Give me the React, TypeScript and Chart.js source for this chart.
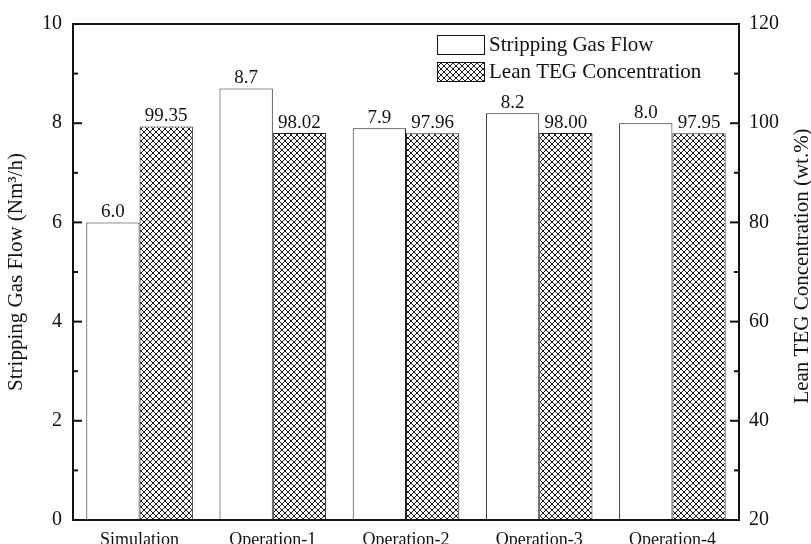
import React, { useEffect, useRef } from "react";
import { Chart, registerables } from "chart.js";

Chart.register(...registerables);

const categories = ["Simulation", "Operation-1", "Operation-2", "Operation-3", "Operation-4"];
const gasFlow = [6.0, 8.7, 7.9, 8.2, 8.0];
const tegConcentration = [99.35, 98.02, 97.96, 98.0, 97.95];
const leftTicks = [0, 2, 4, 6, 8, 10];
const rightTicks = [20, 40, 60, 80, 100, 120];
const seriesNames = ["Stripping Gas Flow", "Lean TEG Concentration"];
const leftTitle = "Stripping Gas Flow (Nm\u00b3/h)";
const rightTitle = "Lean TEG Concentration (wt.%)";

const SERIF = "'Liberation Serif', 'Times New Roman', serif";
const INK = "#111";

// 6px cross-hatch tile built from single-pixel diagonals
function makeCrossHatch(): CanvasPattern | string {
  const n = 6;
  const tile = document.createElement("canvas");
  tile.width = n;
  tile.height = n;
  const c = tile.getContext("2d");
  if (!c) return "#fff";
  c.fillStyle = "#fff";
  c.fillRect(0, 0, n, n);
  c.fillStyle = "#1a1a1a";
  for (let i = 0; i < n; i++) {
    c.fillRect(i, i, 1, 1);
    c.fillRect(n - 1 - i, i, 1, 1);
  }
  const p = c.createPattern(tile, "repeat");
  return p || "#fff";
}

export default function App() {
  const canvasRef = useRef<HTMLCanvasElement>(null);

  useEffect(() => {
    const canvas = canvasRef.current;
    if (!canvas) return;
    const hatch = makeCrossHatch();

    const framePlugin = {
      id: "frameAndTicks",
      afterDraw(chart: any) {
        const { ctx, chartArea: a, scales } = chart;
        ctx.save();
        ctx.strokeStyle = INK;
        // inward minor/major ticks, left axis
        ctx.lineWidth = 2;
        for (let v = 0; v <= 10; v += 1) {
          const y = scales.y.getPixelForValue(v);
          const len = v % 2 === 0 ? 9 : 5;
          ctx.beginPath();
          ctx.moveTo(a.left, y);
          ctx.lineTo(a.left + len, y);
          ctx.stroke();
        }
        // inward ticks, right axis
        for (let v = 20; v <= 120; v += 10) {
          const y = scales.y1.getPixelForValue(v);
          const len = (v - 20) % 20 === 0 ? 9 : 5;
          ctx.beginPath();
          ctx.moveTo(a.right, y);
          ctx.lineTo(a.right - len, y);
          ctx.stroke();
        }
        // plot frame
        ctx.lineWidth = 2;
        ctx.strokeRect(a.left, a.top, a.right - a.left, a.bottom - a.top);

        // right axis title, reading bottom to top
        ctx.fillStyle = INK;
        ctx.font = `21px ${SERIF}`;
        ctx.textAlign = "center";
        ctx.textBaseline = "alphabetic";
        ctx.translate(808, (a.top + a.bottom) / 2 - 6);
        ctx.rotate(-Math.PI / 2);
        ctx.fillText(rightTitle, 0, 0);
        ctx.restore();

        // legend
        ctx.save();
        const lx = 437;
        const rows = [35, 62];
        const fills = ["#fff", hatch];
        ctx.font = `21px ${SERIF}`;
        ctx.textAlign = "left";
        ctx.textBaseline = "middle";
        rows.forEach((ry, i) => {
          ctx.fillStyle = fills[i] as any;
          ctx.fillRect(lx, ry, 47, 19);
          ctx.strokeStyle = INK;
          ctx.lineWidth = 1;
          ctx.strokeRect(lx + 0.5, ry + 0.5, 47, 19);
          ctx.fillStyle = INK;
          ctx.fillText(seriesNames[i], lx + 52, ry + 10);
        });
        ctx.restore();
      },
      afterDatasetsDraw(chart: any) {
        const { ctx } = chart;
        ctx.save();
        ctx.fillStyle = INK;
        ctx.font = `19px ${SERIF}`;
        ctx.textAlign = "center";
        ctx.textBaseline = "alphabetic";
        chart.data.datasets.forEach((ds: any, di: number) => {
          const meta = chart.getDatasetMeta(di);
          meta.data.forEach((el: any, i: number) => {
            const v = ds.data[i] as number;
            const txt = di === 0 ? v.toFixed(1) : v.toFixed(2);
            ctx.fillText(txt, el.x, el.y - 5);
          });
        });
        ctx.restore();
      },
    };

    const chart = new Chart(canvas, {
      type: "bar",
      data: {
        labels: categories,
        datasets: [
          {
            label: seriesNames[0],
            data: gasFlow,
            yAxisID: "y",
            backgroundColor: "#fff",
            borderColor: "#222",
            borderWidth: 1,
            categoryPercentage: 0.8,
            barPercentage: 1.0,
          },
          {
            label: seriesNames[1],
            data: tegConcentration,
            yAxisID: "y1",
            backgroundColor: hatch as any,
            borderColor: "#222",
            borderWidth: 1,
            categoryPercentage: 0.8,
            barPercentage: 1.0,
          },
        ],
      },
      options: {
        responsive: false,
        animation: false,
        layout: { padding: { top: 24, left: 0, right: 0, bottom: 0 } },
        plugins: {
          legend: { display: false },
          tooltip: { enabled: false },
        },
        scales: {
          x: {
            type: "category",
            position: "bottom",
            grid: { display: false, drawTicks: false },
            border: { display: false },
            ticks: {
              color: INK,
              font: { family: SERIF, size: 18 },
              padding: 9,
              maxRotation: 0,
              autoSkip: false,
            },
            afterFit(scale: any) {
              scale.height = 24;
            },
          },
          y: {
            type: "linear",
            position: "left",
            min: leftTicks[0],
            max: leftTicks[leftTicks.length - 1],
            grid: { display: false, drawTicks: false },
            border: { display: false },
            ticks: {
              stepSize: 2,
              color: INK,
              font: { family: SERIF, size: 20 },
              padding: 11,
            },
            title: {
              display: true,
              text: leftTitle,
              color: INK,
              font: { family: SERIF, size: 21 },
              padding: { top: 4, bottom: 0 },
            },
            afterFit(scale: any) {
              scale.width = 73;
            },
          },
          y1: {
            type: "linear",
            position: "right",
            min: rightTicks[0],
            max: rightTicks[rightTicks.length - 1],
            grid: { display: false, drawTicks: false },
            border: { display: false },
            ticks: {
              stepSize: 20,
              color: INK,
              font: { family: SERIF, size: 20 },
              padding: 10,
            },
            afterFit(scale: any) {
              scale.width = 72;
            },
          },
        },
      },
      plugins: [framePlugin],
    });

    return () => chart.destroy();
  }, []);

  return (
    <div style={{ position: "absolute", left: 0, top: 0, width: 811, height: 544, background: "#fff" }}>
      <canvas ref={canvasRef} width={811} height={544} />
    </div>
  );
}
